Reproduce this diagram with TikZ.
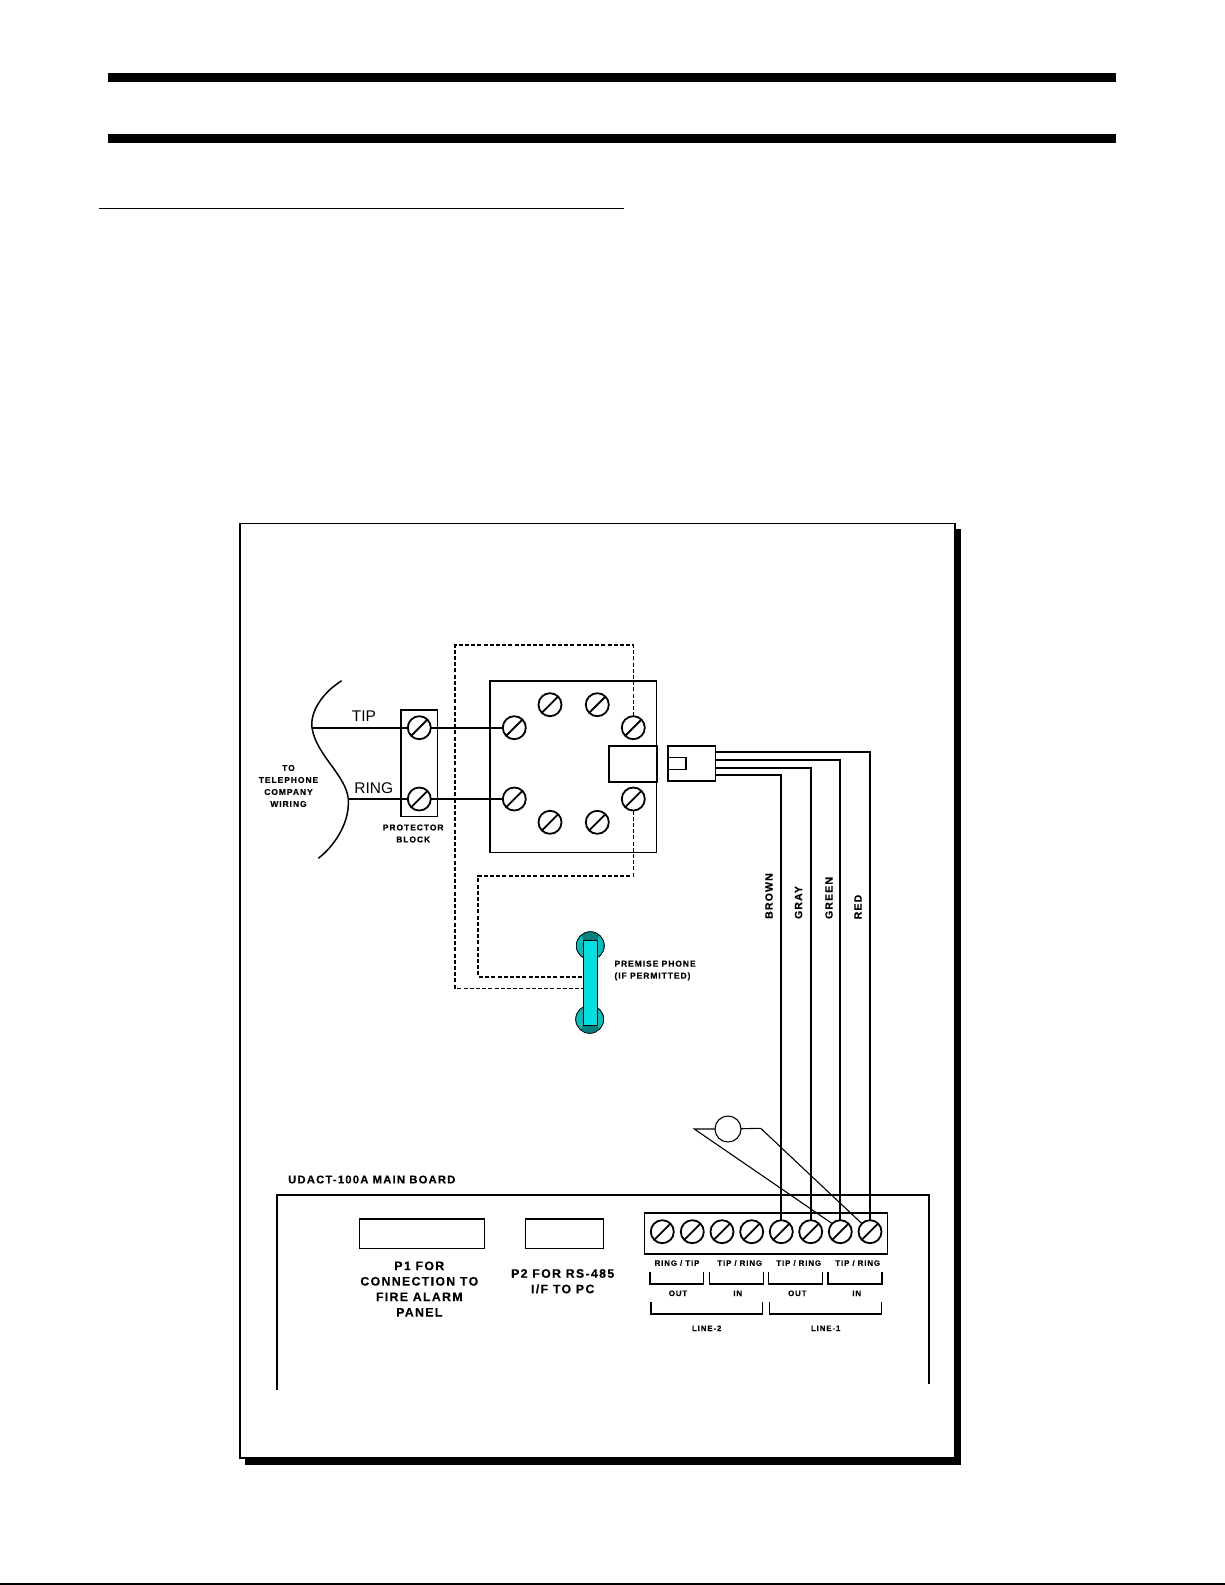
\documentclass[tikz,border=0pt]{standalone}
\usepackage{fontspec}
\setmainfont{Liberation Sans}
\newfontfamily\lab{Liberation Sans}[LetterSpace=11,BoldFeatures={FakeBold=0.3}]
\newcommand{\labsize}[2]{\lab\bfseries\fontsize{#1}{#2}\selectfont}
\tikzset{
  screw/.style={circle,draw=black,line width=1.8pt,minimum size=23pt,inner sep=0pt,outer sep=0pt,fill=white,
    path picture={\draw[line width=1.8pt] (path picture bounding box.south west) -- (path picture bounding box.north east);}},
  wire/.style={line width=1.7pt,draw=black},
  thinwire/.style={line width=1.1pt,draw=black},
  dash wire/.style={line width=1.6pt,draw=black,dash pattern=on 4pt off 2.2pt},
  box/.style={rectangle,draw=black,line width=1.6pt,inner sep=0pt,outer sep=0pt},
  smalltext/.style={inner sep=0pt,font=\labsize{8.5}{12},align=center},
  midtext/.style={inner sep=0pt,font=\labsize{12.3}{15.5},align=center},
  termtext/.style={inner sep=0pt,font=\labsize{7.9}{10}},
  wirename/.style={inner sep=0pt,rotate=90,font=\labsize{10.5}{12}},
  bigtext/.style={inner sep=0pt,font=\fontsize{15.5}{18}\selectfont},
  bracket/.style={line width=1.5pt,draw=black},
  earpiece/.style={circle,draw=black,line width=0.6pt,fill=phonemid,minimum size=28pt,inner sep=0pt,outer sep=0pt},
}
\definecolor{phonemid}{HTML}{00BEBE}
\definecolor{phonedark}{HTML}{008080}
\definecolor{phonelight}{HTML}{00E0E0}
\begin{document}
\begin{tikzpicture}[x=1pt,y=-1pt]
\useasboundingbox (0,0) rectangle (1225,1585);
\fill[white] (0,0) rectangle (1225,1585);
% page furniture
\fill[black] (108,73) rectangle (1116,82);
\fill[black] (108,134) rectangle (1116,143);
\draw[line width=1.3pt] (99,208.5) -- (624,208.5);
\draw[line width=1.6pt] (0,1584) -- (1225,1584);
% frame with shadow
\fill[black] (245,529) rectangle (961,1465);
\draw[line width=1.8pt,fill=white] (239.8,523.5) rectangle (955,1458);
% telephone company curve
\coordinate (ctip) at (312,727.7);
\coordinate (cring) at (348.3,799);
\draw[line width=1.5pt] (341.7,680.7) .. controls (322,693) and (310,712) .. (ctip)
  .. controls (316,755) and (346,775) .. (cring)
  .. controls (350,825) and (332,848) .. (318.3,858.3);
% protector block and jack box
\node[box,minimum width=36.3pt,minimum height=106.7pt] (prot) at (419.2,763.3) {};
\node[box,minimum width=166.7pt,minimum height=171.6pt] (jackbox) at (573.3,766.5) {};
\node[box,minimum width=48pt,minimum height=36pt] (jack) at (632.7,763.7) {};
\node[box,minimum width=47.7pt,minimum height=35pt] (plug) at (691.8,763.5) {};
\node[box,minimum width=18pt,minimum height=12pt] (plugin) at (677,763.3) {};
% screws
\node[screw] (ptip) at (419.3,727.7) {};
\node[screw] (pring) at (419.3,799) {};
\node[screw] (btip) at (514.3,727.7) {};
\node[screw] (bring) at (514.3,799) {};
\node[screw] (bt1) at (550,704.7) {};
\node[screw] (bt2) at (597.3,704.7) {};
\node[screw] (br1) at (633.3,727.7) {};
\node[screw] (br2) at (633.3,799) {};
\node[screw] (bb1) at (550,822.3) {};
\node[screw] (bb2) at (597.3,822.3) {};
% tip & ring wires
\draw[wire] (ctip) -- (ptip);
\draw[wire] (cring) -- (pring);
\draw[wire] (ptip) -- (btip);
\draw[wire] (pring) -- (bring);
% phone
\node[earpiece] (eartop) at (590.3,945.7) {};
\node[earpiece] (earbot) at (589.7,1019.3) {};
\begin{scope}
\clip (590.3,945.7) circle (14pt);
\fill[phonedark] (583.7,940.3) -- (597,940.3) -- (603,928) -- (578,928) -- cycle;
\end{scope}
\begin{scope}
\clip (589.7,1019.3) circle (14pt);
\fill[phonedark] (583,1025) -- (597,1025) -- (603,1036) -- (577,1036) -- cycle;
\end{scope}
\draw[line width=0.6pt] (590.3,945.7) circle (14pt);
\draw[line width=0.6pt] (589.7,1019.3) circle (14pt);
\node[draw=black,line width=0.6pt,fill=phonelight,minimum width=14pt,minimum height=84.7pt,inner sep=0pt,outer sep=0pt] (body) at (590.3,982.7) {};
% dashed phone wires
\coordinate (o1) at (633.3,645);
\coordinate (o2) at (455,645);
\coordinate (o3) at (455,988.3);
\coordinate (o4) at (body.west |- o3);
\draw[dash wire] (br1.north) -- (o1) -- (o2) -- (o3) -- (o4);
\coordinate (i1) at (633.3,875.7);
\coordinate (i2) at (478,875.7);
\coordinate (i3) at (478,976.7);
\coordinate (i4) at (body.west |- i3);
\draw[dash wire] (br2.south) -- (i1) -- (i2) -- (i3) -- (i4);
% board
\coordinate (bd1) at (276.7,1390);
\coordinate (bd2) at (276.7,1195);
\coordinate (bd3) at (929,1195);
\coordinate (bd4) at (929,1384);
\draw[line width=2.2pt] (bd1) -- (bd2) -- (bd3) -- (bd4);
\node[box,line width=1.1pt,minimum width=125pt,minimum height=29.3pt] (p1) at (421.8,1233.6) {};
\node[box,line width=1.1pt,minimum width=78.4pt,minimum height=29.3pt] (p2) at (564.5,1233.6) {};
\node[box,line width=1.1pt,minimum width=243.7pt,minimum height=41pt] (strip) at (765.9,1233.5) {};
% terminal screws
\node[screw] (t1) at (662.3,1231.7) {};
\node[screw] (t2) at (692.3,1231.7) {};
\node[screw] (t3) at (722,1231.7) {};
\node[screw] (t4) at (751.7,1231.7) {};
\node[screw] (t5) at (781.3,1231.7) {};
\node[screw] (t6) at (810.7,1231.7) {};
\node[screw] (t7) at (840.3,1231.7) {};
\node[screw] (t8) at (870,1231.7) {};
% plug wires
\coordinate (wred) at (plug.east |- 0,752.3);
\coordinate (wgreen) at (plug.east |- 0,760);
\coordinate (wgray) at (plug.east |- 0,767.7);
\coordinate (wbrown) at (plug.east |- 0,775);
\draw[wire] (wred) -| (t8.north);
\draw[wire] (wgreen) -| (t7.north);
\draw[wire] (wgray) -| (t6.north);
\draw[wire] (wbrown) -| (t5.north);
% resistor
\node[circle,draw=black,line width=1.1pt,fill=white,minimum size=26pt,inner sep=0pt,outer sep=0pt] (res) at (728,1129) {};
\coordinate (rl) at (694.3,1129);
\coordinate (rr) at (760.7,1128.3);
\draw[thinwire] (res) -- (rl) -- (t7.north west);
\draw[thinwire] (res) -- (rr) -- (t8.north west);
% brackets
\draw[bracket] (650,1272.3) |- (703.7,1284) -- (703.7,1272.3);
\draw[bracket] (709.3,1272.3) |- (763.3,1284) -- (763.3,1272.3);
\draw[bracket] (768.7,1272.3) |- (822.7,1284) -- (822.7,1272.3);
\draw[bracket] (828,1272.3) |- (882,1284) -- (882,1272.3);
\draw[bracket] (651,1302.3) |- (762.3,1314) -- (762.3,1302.3);
\draw[bracket] (769.3,1302.3) |- (881.3,1314) -- (881.3,1302.3);
% labels
\node[bigtext] (ltip) at (364,716) {TIP};
\node[bigtext] (lring) at (373.7,788) {RING};
\node[smalltext] (lto) at (288.5,786) {TO\\TELEPHONE\\COMPANY\\WIRING};
\node[smalltext] (lprot) at (413.2,833.5) {PROTECTOR\\BLOCK};
\node[smalltext,align=left,anchor=west] (lphone) at (614.3,970.5) {PREMISE PHONE\\(IF PERMITTED)};
\node[wirename] (lbrown) at (769,896) {BROWN};
\node[wirename] (lgray) at (798.5,902.5) {GRAY};
\node[wirename] (lgreen) at (829,898) {GREEN};
\node[wirename] (lred) at (858,907) {RED};
\node[inner sep=0pt,anchor=west,font=\labsize{11.2}{12}] (lboard) at (288,1179.5) {UDACT-100A MAIN BOARD};
\node[midtext] (lp1) at (419.3,1289) {P1 FOR\\CONNECTION TO\\FIRE ALARM\\PANEL};
\node[midtext] (lp2) at (562.7,1281.3) {P2 FOR RS-485\\I/F TO PC};
\node[termtext] (tl1) at (677,1263) {RING / TIP};
\node[termtext] (tl2) at (739.7,1263) {TIP / RING};
\node[termtext] (tl3) at (798.7,1263) {TIP / RING};
\node[termtext] (tl4) at (857.7,1263) {TIP / RING};
\node[termtext] (tl5) at (678,1293.3) {OUT};
\node[termtext] (tl6) at (737.7,1293.3) {IN};
\node[termtext] (tl7) at (797.3,1293.3) {OUT};
\node[termtext] (tl8) at (856.7,1293.3) {IN};
\node[termtext] (tl9) at (706.7,1328.3) {LINE-2};
\node[termtext] (tl10) at (825.7,1328.3) {LINE-1};
\end{tikzpicture}
\end{document}
